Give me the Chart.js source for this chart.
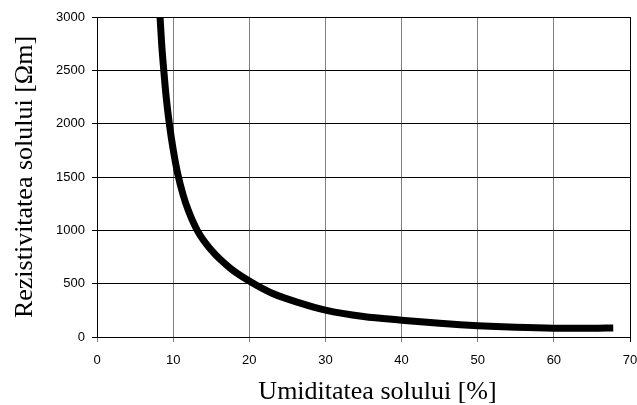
<!DOCTYPE html>
<html>
<head>
<meta charset="utf-8">
<script src="https://cdn.jsdelivr.net/npm/chart.js@4"></script>
<style>
  body { margin: 0; background: #fff; }
  canvas { display: block; }
</style>
</head>
<body>
<canvas id="myChart" width="637" height="405"></canvas>
<script>
// humidity [%] vs resistivity [Ohm m]
const moisture = [8.28, 8.5, 8.77, 9.1, 9.5, 10.0, 10.6, 11.3, 12.0, 13.2, 15.0, 17.5, 20.0, 23.0, 26.7, 30.0, 35.0, 40.0, 45.0, 50.0, 55.0, 60.0, 65.0, 67.8];
const resistivity = [3000, 2740, 2500, 2240, 2000, 1760, 1530, 1335, 1185, 995, 815, 645, 525, 410, 318, 252, 192, 158, 129, 106, 91, 83, 82, 85];

const xTitle = 'Umiditatea solului [%]';
const yTitle = 'Rezistivitatea solului [Ωm]';

const points = moisture.map((x, i) => ({ x: x, y: resistivity[i] }));

const tickFont = { family: "'Liberation Sans', Arial, sans-serif", size: 13 };
const titleFont = { family: "'Liberation Serif', 'Times New Roman', serif", size: 26, lineHeight: 1 };

// x title sits a bit right of the plot centre in the original
const xTitlePlugin = {
  id: 'xTitle',
  afterDraw(chart) {
    const c = chart.ctx;
    const area = chart.chartArea;
    c.save();
    c.font = '26px ' + titleFont.family;
    c.fillStyle = '#000';
    c.textAlign = 'center';
    c.textBaseline = 'middle';
    c.fillText(xTitle, (area.left + area.right) / 2 + 14, chart.height - 13);
    c.restore();
  }
};

var ctx = document.getElementById('myChart');

var myChart = new Chart(ctx, {
  type: 'scatter',
  data: {
    datasets: [{
      data: points,
      showLine: true,
      borderColor: '#000',
      borderWidth: 7,
      pointRadius: 0,
      cubicInterpolationMode: 'monotone'
    }]
  },
  options: {
    responsive: false,
    devicePixelRatio: 1,
    animation: false,
    layout: { padding: { left: 0, top: 17, right: 7, bottom: 0 } },
    plugins: { legend: { display: false }, tooltip: { enabled: false } },
    scales: {
      x: {
        type: 'linear',
        min: 0,
        max: 70,
        ticks: { stepSize: 10, color: '#000', font: tickFont, padding: 11, maxRotation: 0, callback: v => String(v) },
        grid: {
          color: c => c.tick && c.tick.value === 70 ? '#000' : '#808080',
          tickLength: 5
        },
        border: { color: '#000' },
        afterFit: s => { s.height = 68; s.paddingLeft = 0; s.paddingRight = 0; }
      },
      y: {
        min: 0,
        max: 3000,
        ticks: { stepSize: 500, color: '#000', font: tickFont, padding: 7, callback: v => String(v) },
        grid: { color: '#000', tickLength: 5 },
        border: { color: '#000' },
        title: { display: true, text: yTitle, color: '#000', font: titleFont, padding: { top: 12, bottom: 0 } },
        afterFit: s => { s.width = 97; s.paddingTop = 0; s.paddingBottom = 0; }
      }
    }
  },
  plugins: [xTitlePlugin]
});
</script>
</body>
</html>
